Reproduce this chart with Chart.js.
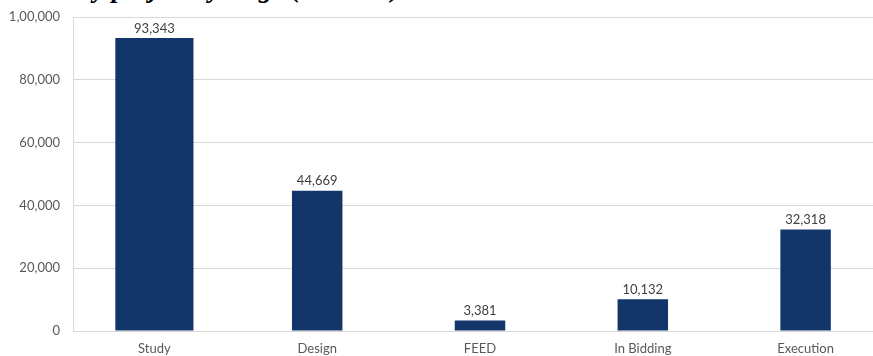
<!DOCTYPE html>
<html lang="en">
<head>
<meta charset="UTF-8">
<title>Projects by stage</title>
<script src="https://cdn.jsdelivr.net/npm/chart.js"></script>
<style>
  html, body { margin: 0; padding: 0; background: #fff; overflow: hidden; }
  body { width: 873px; height: 356px; position: relative; }
  .title {
    position: absolute; left: 10px; top: -27px;
    font: italic bold 27px "Liberation Serif", serif;
    color: #000; white-space: nowrap;
  }
  .chart-box { position: absolute; left: 0; top: 0; width: 887px; height: 356px; }
</style>
</head>
<body>
<div class="title">Value by project by stage (US$ mn)</div>
<div class="chart-box"><canvas id="stageChart"></canvas></div>
<script>
// data
const stages = ["Study", "Design", "FEED", "In Bidding", "Execution"];
const values = [93343, 44669, 3381, 10132, 32318];
const yTicks = [0, 20000, 40000, 60000, 80000, 100000];

const barColor = "#12356a";
const textColor = "#595959";
const gridColor = "#d9d9d9";
const fmt = v => Number(v).toLocaleString("en-IN");

// value labels above each bar
const valueLabels = {
  id: "valueLabels",
  afterDatasetsDraw(chart) {
    const ctx = chart.ctx;
    ctx.save();
    ctx.font = "13px Lato";
    ctx.fillStyle = "#404040";
    ctx.textAlign = "center";
    ctx.textBaseline = "bottom";
    chart.data.datasets.forEach((ds, di) => {
      chart.getDatasetMeta(di).data.forEach((bar, i) => {
        if (ds.data[i] == null) return;
        ctx.fillText(fmt(ds.data[i]), bar.x, bar.y - 3);
      });
    });
    ctx.restore();
  }
};

// the Study bar is drawn wider in the reference, so it gets its own dataset
new Chart(document.getElementById("stageChart"), {
  type: "bar",
  data: {
    labels: stages,
    datasets: [
      {
        data: values.map((v, i) => (i === 0 ? v : null)),
        backgroundColor: barColor,
        barPercentage: 0.48,
        categoryPercentage: 1,
        grouped: false
      },
      {
        data: values.map((v, i) => (i === 0 ? null : v)),
        backgroundColor: barColor,
        barPercentage: 0.31,
        categoryPercentage: 1,
        grouped: false
      }
    ]
  },
  options: {
    responsive: true,
    maintainAspectRatio: false,
    animation: false,
    layout: { padding: { top: 17, left: 0, right: 0, bottom: 0 } },
    plugins: { legend: { display: false }, tooltip: { enabled: false } },
    scales: {
      x: {
        afterFit: s => { s.height = 25; },
        grid: { display: false, drawTicks: false },
        border: { color: gridColor },
        ticks: { color: textColor, font: { family: "Lato", size: 13 }, padding: 10 }
      },
      y: {
        min: 0,
        max: 100000,
        afterBuildTicks: s => { s.ticks = yTicks.map(v => ({ value: v })); },
        afterFit: s => { s.width = 73; s.paddingTop = 0; s.paddingBottom = 0; },
        grid: { color: gridColor, drawTicks: false },
        border: { color: gridColor },
        ticks: {
          color: textColor,
          font: { family: "Lato", size: 13 },
          padding: 13,
          callback: v => fmt(v)
        }
      }
    }
  },
  plugins: [valueLabels]
});
</script>
</body>
</html>
